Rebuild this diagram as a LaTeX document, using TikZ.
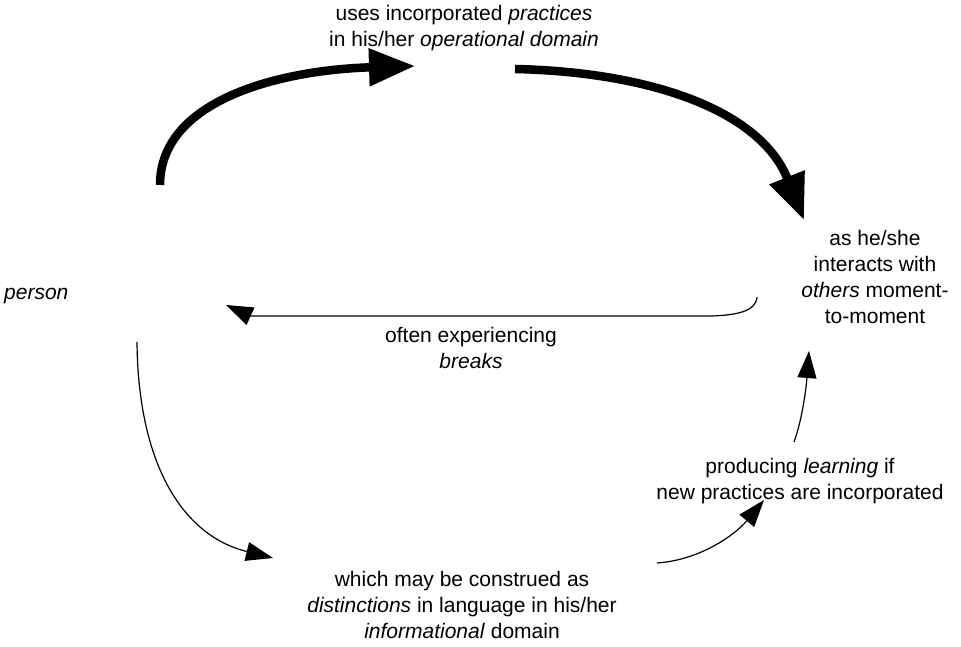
\documentclass[tikz,border=0pt]{standalone}
\usepackage{fontspec}
\setmainfont{Liberation Sans}
\usetikzlibrary{arrows.meta}
\begin{document}
\begin{tikzpicture}[x=1pt,y=-1pt,
  lbl/.style={align=center,inner sep=0pt,font=\fontsize{21}{26}\selectfont},
  thick arrow/.style={line width=8.5pt,-{Triangle[length=46pt,width=36pt]}},
  thin arrow/.style={line width=1.2pt,-{Triangle[length=27pt,width=19pt]}}]
\useasboundingbox (0,0) rectangle (961,647);

% labels
\node[lbl] (use) at (464,28) {uses incorporated \textit{practices}\\in his/her \textit{operational domain}};
\node[lbl,anchor=west] (person) at (4,296) {\textit{person}};
\node[lbl] (others) at (875,277) {as he/she\\interacts with\\\textit{others} moment-\\to-moment};
\node[lbl] (breaks) at (471,348) {often experiencing\\\textit{breaks}};
\node[lbl] (learn) at (800,481) {producing \textit{learning} if\\new practices are incorporated};
\node[lbl] (dist) at (462,605) {which may be construed as\\\textit{distinctions} in language in his/her\\\textit{informational} domain};

% arrow end points
\coordinate (a1s) at (160,185);
\coordinate (a1e) at (415,66);
\coordinate (a2s) at (515,69);
\coordinate (a2e) at (804,220);
\coordinate (a3s) at (757,297);
\coordinate (a3e) at (226,305);
\coordinate (a4s) at (137,342);
\coordinate (a4e) at (273,558);
\coordinate (a5s) at (657,563);
\coordinate (a5e) at (764,500);
\coordinate (a6s) at (794,442);
\coordinate (a6e) at (809,351);

% thick arrows along the top
\draw[thick arrow] (a1s) .. controls (160,100) and (280,70) .. (a1e);
\draw[thick arrow] (a2s) .. controls (650,72) and (760,110) .. (a2e);

% thin arrows
\draw[thin arrow] (a3s) .. controls (756,312) and (735,315) .. (712,316) -- (250,316) -- (a3e);
\draw[thin arrow] (a4s) .. controls (138,460) and (180,535) .. (a4e);
\draw[thin arrow] (a5s) .. controls (700,560) and (735,535) .. (a5e);
\draw[thin arrow] (a6s) .. controls (802,420) and (806,390) .. (a6e);
\end{tikzpicture}
\end{document}
